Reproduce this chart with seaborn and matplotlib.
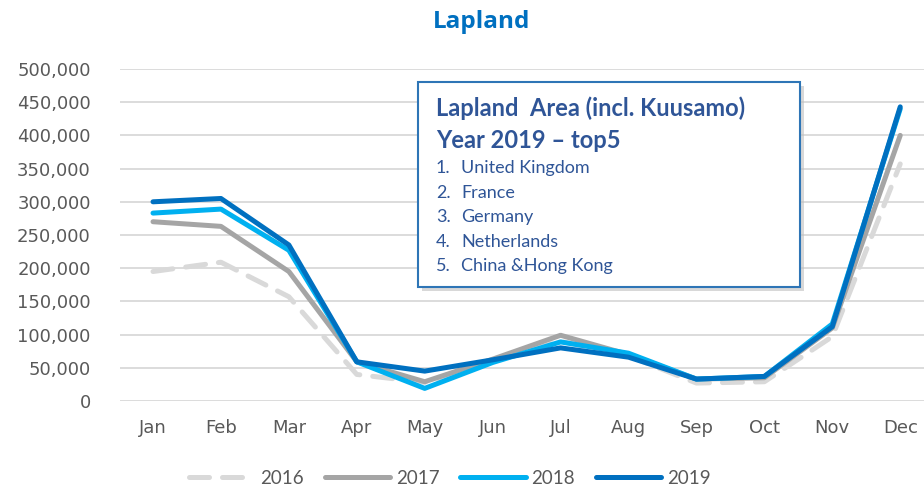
import numpy as np
import pandas as pd
import seaborn as sns
import matplotlib.pyplot as plt
from matplotlib.patches import Rectangle
from matplotlib.ticker import FuncFormatter

months = ["Jan", "Feb", "Mar", "Apr", "May", "Jun",
          "Jul", "Aug", "Sep", "Oct", "Nov", "Dec"]
years = ["2016", "2017", "2018", "2019"]
v2016 = [195000, 209000, 157000, 40000, 28000, 60000, 90000, 68000, 27000, 29000, 97000, 357000]
v2017 = [270000, 263000, 195000, 59000, 29000, 63000, 99000, 70000, 33000, 35000, 110000, 400000]
v2018 = [283000, 289000, 227000, 59000, 19000, 58000, 89000, 72000, 33000, 37000, 116000, 440000]
v2019 = [300000, 305000, 235000, 59000, 45000, 62000, 80000, 66000, 33000, 37000, 112000, 443000]
box_title = ["Lapland  Area (incl. Kuusamo)", "Year 2019 \u2013 top5"]
top5 = ["United Kingdom", "France", "Germany", "Netherlands", "China &Hong Kong"]

colors = {"2016": "#D9D9D9", "2017": "#A5A5A5", "2018": "#00B0F0", "2019": "#0070C0"}

df = pd.DataFrame({
    "Month": months * 4,
    "Year": np.repeat(years, 12),
    "Visitors": v2016 + v2017 + v2018 + v2019,
})

sns.set_style("white")
plt.rcParams["font.family"] = ["Lato", "DejaVu Sans"]

fig = plt.figure(figsize=(9.24, 4.87), dpi=100)
ax = fig.add_axes([120 / 924, (487 - 401) / 487, 804 / 924, 332 / 487])

for yr in years:
    sub = df[df["Year"] == yr]
    sns.lineplot(data=sub, x="Month", y="Visitors", ax=ax, sort=False,
                 color=colors[yr], linewidth=3.6, label=yr)
ls = ax.get_lines()
ls[0].set_dashes((4, 2.6))
ls[0].set_dash_capstyle("round")
for l in ls:
    l.set_solid_capstyle("round")

ax.set_ylim(0, 500000)
ax.set_xlim(-0.486, 11.35)
ax.set_yticks(np.arange(0, 500001, 50000))
ax.yaxis.set_major_formatter(FuncFormatter(lambda v, p: f"{int(v):,}"))
ax.grid(axis="y", color="#D9D9D9", linewidth=1.3)
ax.grid(axis="x", visible=False)
for s in ax.spines.values():
    s.set_visible(False)
ax.tick_params(axis="both", length=0, labelsize=13, colors="#595959")
ax.tick_params(axis="y", pad=21)
ax.tick_params(axis="x", pad=13)
for lab in ax.get_xticklabels() + ax.get_yticklabels():
    lab.set_family("DejaVu Sans")
ax.set_xlabel("")
ax.set_ylabel("")

leg = ax.legend(loc="center", bbox_to_anchor=(450 / 924, 1 - 478 / 487),
                bbox_transform=fig.transFigure, ncol=4, frameon=False,
                fontsize=13.5, handlelength=3.5, columnspacing=1.1, handletextpad=0.3)
for t in leg.get_texts():
    t.set_color("#595959")

fig.text(482 / 924, 1 - 22 / 487, "Lapland", ha="center", va="center",
         fontsize=17.5, fontweight="bold", color="#0070C0", family="Open Sans")

# text box with shadow
bx, by, bw, bh = 418 / 924, 1 - 287 / 487, 382 / 924, 205 / 487
fig.patches.append(Rectangle((bx + 4 / 924, by - 4 / 487), bw, bh, transform=fig.transFigure,
                             facecolor="#BFBFBF", edgecolor="none", alpha=0.6, zorder=5))
fig.patches.append(Rectangle((bx, by), bw, bh, transform=fig.transFigure,
                             facecolor="white", edgecolor="#2E75B6", linewidth=1.5, zorder=6))
for i, txt in enumerate(box_title):
    fig.text(436 / 924, 1 - (108 + 32 * i) / 487, txt, ha="left", va="center",
             fontsize=17, fontweight="bold", color="#2F5597", zorder=7)
for i, name in enumerate(top5):
    yy = 1 - (168 + 24.5 * i) / 487
    fig.text(436 / 924, yy, f"{i + 1}.", ha="left", va="center",
             fontsize=13, color="#2F5597", zorder=7)
    fig.text(461 / 924, yy, name, ha="left", va="center",
             fontsize=13, color="#2F5597", zorder=7)

fig.savefig("out.png", dpi=100, facecolor="white")
